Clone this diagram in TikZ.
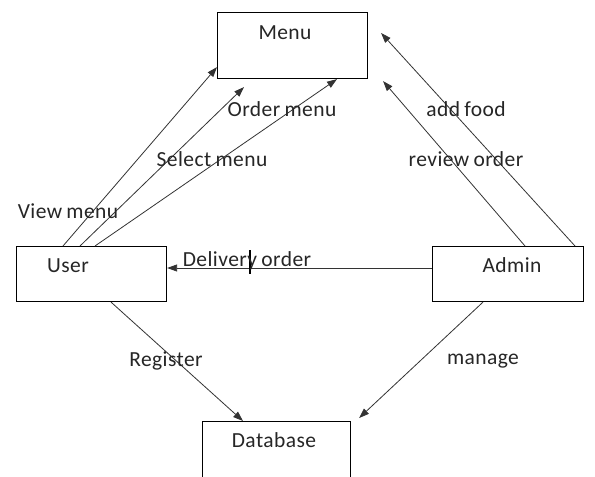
\documentclass[tikz,border=0pt]{standalone}
\usepackage{fontspec}
\setmainfont[LetterSpace=2,WordSpace=0.8]{Carlito}
\usetikzlibrary{arrows.meta}
\begin{document}
\begin{tikzpicture}[x=1pt,y=-1pt,
  box/.style={draw=black, line width=1.1pt, inner sep=0pt, anchor=north west},
  lbl/.style={font=\fontsize{21.5}{23}\selectfont, text=black!85, inner sep=0pt},
  arr/.style={draw=black!80, line width=0.8pt, -{Triangle[length=10pt,width=7pt]}}]
\clip (0,0) rectangle (595,477);
\fill[white] (0,0) rectangle (595,477);

% boxes
\node[box, minimum width=150pt, minimum height=66pt] (menu) at (217,12) {};
\node[box, minimum width=150pt, minimum height=55pt] (user) at (16,246) {};
\node[box, minimum width=151pt, minimum height=55pt] (admin) at (432,246) {};
\node[box, minimum width=148pt, minimum height=80pt] (db) at (202,421) {};

% box titles
\node[lbl] (menut) at (285,33) {Menu};
\node[lbl] (usert) at (68,266) {User};
\node[lbl] (admint) at (512,265) {Admin};
\node[lbl] (dbt) at (274,440) {Database};

% user to menu
\draw[arr] ([xshift=47pt]user.north west) -- ([yshift=12pt]menu.south west);
\draw[arr] ([xshift=64pt]user.north west) -- ([xshift=27pt,yshift=-8pt]menu.south west);
\draw[arr] ([xshift=79pt]user.north west) -- ([xshift=120pt]menu.south west);

% admin to menu
\draw[arr] ([xshift=143pt]admin.north west) -- ([xshift=13pt,yshift=-21pt]menu.north east);
\draw[arr] ([xshift=93pt]admin.north west) -- ([xshift=15pt,yshift=-2pt]menu.south east);

% admin to user
\draw[arr] ([yshift=-22pt]admin.north west) -- ([yshift=-22pt]user.north east);
\draw[line width=1.4pt] (250,250) -- (250,274);

% to database
\draw[arr] ([xshift=95pt]user.south west) -- ([xshift=41pt]db.north west);
\draw[arr] ([xshift=51pt]admin.south west) -- ([xshift=8pt,yshift=3pt]db.north east);

% connector labels
\node[lbl] (l1) at (282,109) {Order menu};
\node[lbl] (l2) at (212,159) {Select menu};
\node[lbl] (l3) at (68,211) {View menu};
\node[lbl] (l4) at (466,109) {add food};
\node[lbl] (l5) at (466,159) {review order};
\node[lbl] (l6) at (247,261) {Delivery order};
\node[lbl] (l7) at (166,361) {Register};
\node[lbl] (l8) at (483,361) {manage};
\end{tikzpicture}
\end{document}
